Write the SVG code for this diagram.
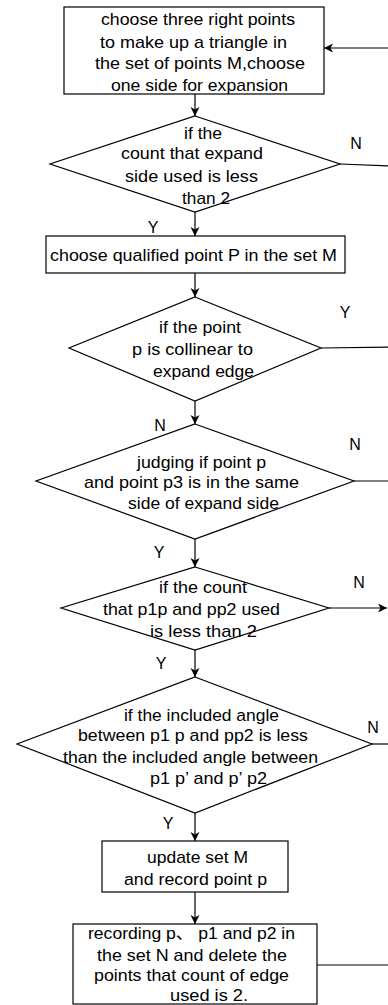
<svg xmlns="http://www.w3.org/2000/svg" width="388" height="1005" viewBox="0 0 388 1005">
<style>
.shape{fill:#fff;stroke:#000;stroke-width:1.2}
.t{font-family:"Liberation Sans","Noto Sans CJK SC",Arial,sans-serif;font-size:17px;fill:#000}
.lb{font-family:"Liberation Sans",Arial,sans-serif;font-size:16px;fill:#000;text-anchor:middle}
.c{fill:none;stroke:#000;stroke-width:1.2}
</style>
<defs>
<marker id="ah" markerUnits="userSpaceOnUse" markerWidth="12" markerHeight="12" refX="9" refY="4.5" orient="auto">
<path d="M0,0 L9,4.5 L0,9 L2.5,4.5 z" fill="#000"/>
</marker>
</defs>
<rect width="388" height="1005" fill="#fff"/>
<g id="connectors">
<line class="c" x1="195" y1="94" x2="195" y2="116" marker-end="url(#ah)"/>
<line class="c" x1="195" y1="212" x2="195" y2="236" marker-end="url(#ah)"/>
<line class="c" x1="195" y1="273" x2="195" y2="297" marker-end="url(#ah)"/>
<line class="c" x1="195" y1="401" x2="195" y2="424" marker-end="url(#ah)"/>
<line class="c" x1="195" y1="539" x2="195" y2="567" marker-end="url(#ah)"/>
<line class="c" x1="195" y1="650" x2="195" y2="677" marker-end="url(#ah)"/>
<line class="c" x1="195" y1="813" x2="195" y2="841" marker-end="url(#ah)"/>
<line class="c" x1="195" y1="892" x2="195" y2="924" marker-end="url(#ah)"/>
<line class="c" x1="392" y1="48" x2="324" y2="48" marker-end="url(#ah)"/>
<line class="c" x1="340" y1="164" x2="392" y2="166"/>
<line class="c" x1="321" y1="348" x2="392" y2="347"/>
<line class="c" x1="354" y1="481" x2="392" y2="481"/>
<line class="c" x1="329" y1="608" x2="387" y2="608" marker-end="url(#ah)"/>
<line class="c" x1="372" y1="744" x2="392" y2="744"/>
<line class="c" x1="317" y1="965" x2="392" y2="965"/>
<text class="lb" x="356" y="149">N</text>
<text class="lb" x="153" y="233">Y</text>
<text class="lb" x="345" y="318">Y</text>
<text class="lb" x="160" y="431">N</text>
<text class="lb" x="355" y="450">N</text>
<text class="lb" x="159" y="558">Y</text>
<text class="lb" x="359" y="588">N</text>
<text class="lb" x="161" y="669">Y</text>
<text class="lb" x="373" y="733">N</text>
<text class="lb" x="168" y="829">Y</text>
</g>
<g id="n1">
<rect class="shape" x="64" y="7" width="260" height="87"/>
<text class="t" x="101" y="25" textLength="194" lengthAdjust="spacingAndGlyphs">choose three right points</text>
<text class="t" x="100" y="48" textLength="187" lengthAdjust="spacingAndGlyphs">to make up a triangle in</text>
<text class="t" x="95" y="69" textLength="210" lengthAdjust="spacingAndGlyphs">the set of points M,choose</text>
<text class="t" x="111" y="91" textLength="177" lengthAdjust="spacingAndGlyphs">one side for expansion</text>
</g>
<g id="n2">
<polygon class="shape" points="195,116 340,164 195,212 50,164"/>
<text class="t" x="184" y="139" textLength="38" lengthAdjust="spacingAndGlyphs">if the</text>
<text class="t" x="121" y="159" textLength="142" lengthAdjust="spacingAndGlyphs">count that expand</text>
<text class="t" x="125" y="182" textLength="133" lengthAdjust="spacingAndGlyphs">side used is less</text>
<text class="t" x="182" y="204" textLength="48" lengthAdjust="spacingAndGlyphs">than 2</text>
</g>
<g id="n3">
<rect class="shape" x="46" y="236" width="299" height="37"/>
<text class="t" x="50" y="261" textLength="287" lengthAdjust="spacingAndGlyphs">choose qualified point P in the set M</text>
</g>
<g id="n4">
<polygon class="shape" points="195,297 321,348 195,401 69,348"/>
<text class="t" x="159" y="333" textLength="82" lengthAdjust="spacingAndGlyphs">if the point</text>
<text class="t" x="132" y="355" textLength="121" lengthAdjust="spacingAndGlyphs">p is collinear to</text>
<text class="t" x="153" y="377" textLength="101" lengthAdjust="spacingAndGlyphs">expand edge</text>
</g>
<g id="n5">
<polygon class="shape" points="195,424 354,481 195,539 36,481"/>
<text class="t" x="137" y="468" textLength="129" lengthAdjust="spacingAndGlyphs">judging if point p</text>
<text class="t" x="84" y="488" textLength="215" lengthAdjust="spacingAndGlyphs">and point p3 is in the same</text>
<text class="t" x="128" y="509" textLength="151" lengthAdjust="spacingAndGlyphs">side of expand side</text>
</g>
<g id="n6">
<polygon class="shape" points="195,567 329,608 195,650 61,608"/>
<text class="t" x="159" y="593" textLength="88" lengthAdjust="spacingAndGlyphs">if the count</text>
<text class="t" x="103" y="615" textLength="177" lengthAdjust="spacingAndGlyphs">that p1p and pp2 used</text>
<text class="t" x="150" y="637" textLength="107" lengthAdjust="spacingAndGlyphs">is less than 2</text>
</g>
<g id="n7">
<polygon class="shape" points="195,677 372,744 195,813 17,744"/>
<text class="t" x="124" y="721" textLength="155" lengthAdjust="spacingAndGlyphs">if the included angle</text>
<text class="t" x="78" y="741" textLength="230" lengthAdjust="spacingAndGlyphs">between p1 p and pp2 is less</text>
<text class="t" x="63" y="763" textLength="255" lengthAdjust="spacingAndGlyphs">than the included angle between</text>
<text class="t" x="150" y="784" textLength="117" lengthAdjust="spacingAndGlyphs">p1 p’ and p’ p2</text>
</g>
<g id="n8">
<rect class="shape" x="102" y="841" width="186" height="51"/>
<text class="t" x="147" y="863" textLength="101" lengthAdjust="spacingAndGlyphs">update set M</text>
<text class="t" x="124" y="885" textLength="143" lengthAdjust="spacingAndGlyphs">and record point p</text>
</g>
<g id="n9">
<rect class="shape" x="73" y="924" width="244" height="80"/>
<text class="t" x="88" y="939" textLength="207" lengthAdjust="spacingAndGlyphs">recording p、 p1 and p2 in</text>
<text class="t" x="97" y="961" textLength="190" lengthAdjust="spacingAndGlyphs">the set N and delete the</text>
<text class="t" x="94" y="981" textLength="195" lengthAdjust="spacingAndGlyphs">points that count of edge</text>
<text class="t" x="170" y="1001" textLength="78" lengthAdjust="spacingAndGlyphs">used is 2.</text>
</g>
</svg>
